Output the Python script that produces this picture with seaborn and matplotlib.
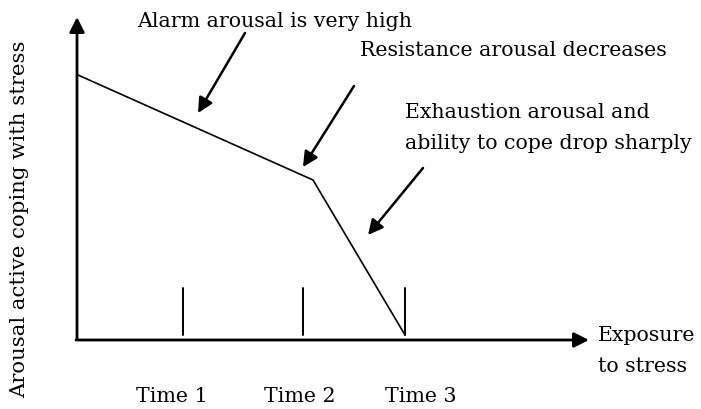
import matplotlib
matplotlib.use("Agg")
import matplotlib.pyplot as plt
import seaborn as sns
import pandas as pd

# ---- data (x: exposure to stress, y: arousal / coping) ----
stage_x = [0.01, 2.36, 3.28]
arousal = [2.65, 1.60, 0.05]
time_labels = ["Time 1", "Time 2", "Time 3"]
time_pos = [1.06, 2.26, 3.28]
tick_top = 0.52
annotations = [
    "Alarm arousal is very high",
    "Resistance arousal decreases",
    "Exhaustion arousal and\nability to cope drop sharply",
]
x_title = "Exposure\nto stress"
y_title = "Arousal active coping with stress"

sns.set_style("white")
plt.rcParams["font.family"] = ["DejaVu Serif"]
plt.rcParams["text.color"] = "black"

W, H = 701, 409
fig = plt.figure(figsize=(W / 100, H / 100), dpi=100)
ax = fig.add_axes([0, 0, 1, 1])

# pixel -> data helpers (origin at px (77, 340), 100 px per unit)
def dx(px):
    return (px - 77) / 100.0

def dy(py):
    return (340 - py) / 100.0

ax.set_xlim(dx(0), dx(W))
ax.set_ylim(dy(H), dy(0))
ax.set_axis_off()

df = pd.DataFrame({"x": stage_x, "y": arousal})
sns.lineplot(data=df, x="x", y="y", ax=ax, color="black", lw=1.2, sort=False)

# time tick marks
for t in time_pos:
    ax.plot([t, t], [arousal[-1], tick_top], color="black", lw=1.4)

# axes with arrows
axis_style = dict(arrowstyle="-|>,head_length=0.9,head_width=0.45", lw=2.0,
                  color="black", mutation_scale=10, shrinkA=0, shrinkB=0)
ax.annotate("", xy=(dx(589), 0), xytext=(-0.01, 0), arrowprops=axis_style)
ax.annotate("", xy=(0, dy(17)), xytext=(0, 0.01), arrowprops=axis_style)

fs = 14.8
# time labels
for lbl, cx in zip(time_labels, [172, 300, 421]):
    ax.text(dx(cx), dy(402), lbl, ha="center", va="baseline", fontsize=fs)

# axis titles
ax.text(dx(598), dy(372), x_title, ha="left", va="baseline", fontsize=fs,
        linespacing=1.8)
ax.text(dx(20), dy(219), y_title, ha="center", va="center", rotation=90,
        fontsize=15.3)

# annotation arrows
ann_style = dict(arrowstyle="-|>,head_length=0.9,head_width=0.45", lw=1.8,
                 color="black", mutation_scale=10, shrinkA=0, shrinkB=0)
ax.annotate("", xy=(dx(198), dy(113)), xytext=(dx(245), dy(33)), arrowprops=ann_style)
ax.annotate("", xy=(dx(303), dy(167)), xytext=(dx(354), dy(86)), arrowprops=ann_style)
ax.annotate("", xy=(dx(368), dy(235)), xytext=(dx(423), dy(168)), arrowprops=ann_style)

ax.text(dx(137), dy(27), annotations[0], ha="left", va="baseline", fontsize=fs)
ax.text(dx(360), dy(56), annotations[1], ha="left", va="baseline", fontsize=fs)
ax.text(dx(405), dy(149), annotations[2], ha="left", va="baseline", fontsize=fs,
        linespacing=1.8)

fig.savefig("out.png", dpi=100)
